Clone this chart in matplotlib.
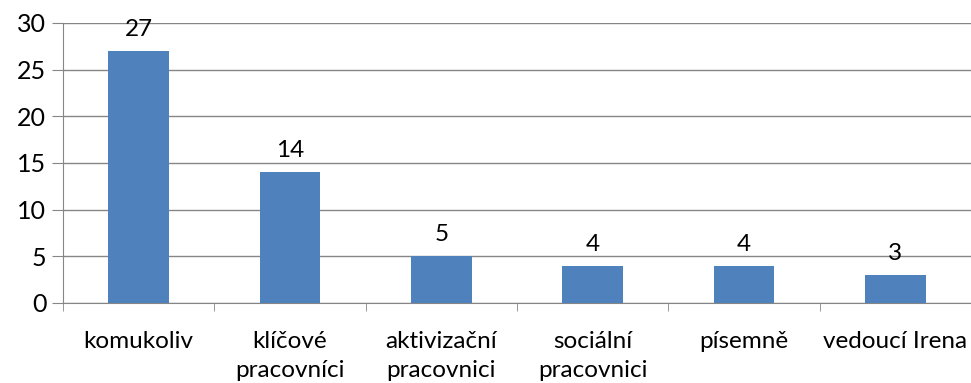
import matplotlib.pyplot as plt
import numpy as np

categories = ['komukoliv', 'klíčové\npracovníci', 'aktivizační\npracovnici',
              'sociální\npracovnici', 'písemně', 'vedoucí Irena']
values = [27, 14, 5, 4, 4, 3]
yticks = [0, 5, 10, 15, 20, 25, 30]

plt.rcParams['font.family'] = ['Lato', 'DejaVu Sans']

fig = plt.figure(figsize=(9.71, 3.83), dpi=100)
ax = fig.add_axes([63 / 971, 80 / 383, 908 / 971, 280 / 383])

x = np.arange(len(categories))
bars = ax.bar(x, values, width=0.4, color='#4F81BD', zorder=3)

for xi, v in zip(x, values):
    ax.annotate(str(v), (xi, v), xytext=(0, 8), textcoords='offset points',
                ha='center', va='bottom', fontsize=17.5, color='black')

ax.set_ylim(0, 30)
ax.set_yticks(yticks)
ax.set_xlim(-0.5, len(categories) - 0.5)
ax.yaxis.grid(True, color='#868686', linewidth=1, zorder=0)

ax.set_xticks(x)
ax.set_xticklabels(categories, fontsize=17.5, linespacing=1.5)
ax.set_xticks(np.arange(len(categories) + 1) - 0.5, minor=True)
ax.tick_params(axis='x', which='major', length=0, pad=20)
ax.tick_params(axis='x', which='minor', length=6, color='#868686')
ax.tick_params(axis='y', length=8, color='#868686', labelsize=18, pad=4)

for side in ['top', 'right']:
    ax.spines[side].set_visible(False)
for side in ['left', 'bottom']:
    ax.spines[side].set_color('#868686')

plt.savefig('out.png', dpi=100)
